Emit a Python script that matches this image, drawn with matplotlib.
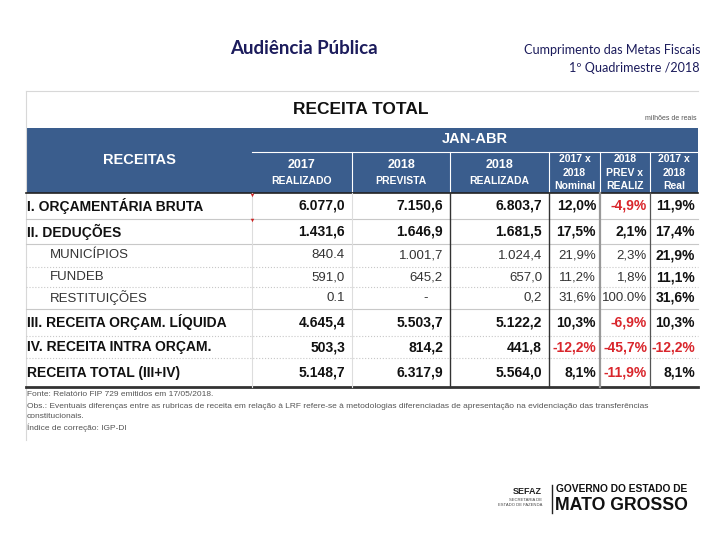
import matplotlib.pyplot as plt

# table data (millions of reais, JAN-ABR)
labels = ["I. ORÇAMENTÁRIA BRUTA", "II. DEDUÇÕES", "MUNICÍPIOS", "FUNDEB",
          "RESTITUIÇÕES", "III. RECEITA ORÇAM. LÍQUIDA",
          "IV. RECEITA INTRA ORÇAM.", "RECEITA TOTAL (III+IV)"]
real_2017 = ["6.077,0", "1.431,6", "840.4", "591,0", "0.1", "4.645,4", "503,3", "5.148,7"]
prev_2018 = ["7.150,6", "1.646,9", "1.001,7", "645,2", "-", "5.503,7", "814,2", "6.317,9"]
real_2018 = ["6.803,7", "1.681,5", "1.024,4", "657,0", "0,2", "5.122,2", "441,8", "5.564,0"]
var_nominal = ["12,0%", "17,5%", "21,9%", "11,2%", "31,6%", "10,3%", "-12,2%", "8,1%"]
var_prev = ["-4,9%", "2,1%", "2,3%", "1,8%", "100.0%", "-6,9%", "-45,7%", "-11,9%"]
var_real = ["11,9%", "17,4%", "21,9%", "11,1%", "31,6%", "10,3%", "-12,2%", "8,1%"]
sub_rows = [2, 3, 4]

col_headers = [["2017", "REALIZADO"], ["2018", "PREVISTA"], ["2018", "REALIZADA"],
               ["2017 x", "2018", "Nominal"], ["2018", "PREV x", "REALIZ"],
               ["2017 x", "2018", "Real"]]

notes = ["Fonte: Relatório FIP 729 emitidos em 17/05/2018.",
         "Obs.: Eventuais diferenças entre as rubricas de receita em relação à LRF refere-se à "
         "metodologias diferenciadas de apresentação na evidenciação das transferências",
         "constitucionais.",
         "Índice de correção: IGP-DI"]

# layout (pixels)
BLUE = '#3a5d8d'
x_edges = [26, 252, 352, 450, 549, 600, 650, 698]
y_edges = [193, 219, 244, 267, 287, 309, 336, 358, 387]
line_style = ['solid', 'solid', 'dotted', 'dotted', 'solid', 'dotted', 'dotted']

plt.rcParams['font.family'] = ['Liberation Sans', 'DejaVu Sans']
fig = plt.figure(figsize=(7.2, 5.4), dpi=100)
ax = fig.add_axes([0, 0, 1, 1])
ax.set_xlim(0, 720)
ax.set_ylim(540, 0)
ax.axis('off')

# slide header
ax.text(230, 49, "Audiência Pública", family=['Lato', 'DejaVu Sans'], fontsize=13.5,
        fontweight='bold', color='#1c1c5c', va='center')
ax.text(700, 50, "Cumprimento das Metas Fiscais", family=['Lato', 'DejaVu Sans'],
        fontsize=9.1, color='#1c1c5c', ha='right', va='center')
ax.text(700, 68, "1º Quadrimestre /2018", family=['Lato', 'DejaVu Sans'],
        fontsize=9.1, color='#1c1c5c', ha='right', va='center')

# frame
ax.plot([26, 26], [91, 440], color='#d8d8d8', lw=0.8)
ax.plot([26, 698], [91, 91], color='#d8d8d8', lw=0.8)

ax.text(361, 110, "RECEITA TOTAL", fontsize=12.5, fontweight='bold', ha='center',
        va='center', color='#111111')
ax.text(697, 119, "milhões de reais", fontsize=5, ha='right', va='center', color='#555555')

# blue header
ax.add_patch(plt.Rectangle((26, 128), 672, 65, color=BLUE, lw=0))
ax.text(139, 160, "RECEITAS", fontsize=10.5, fontweight='bold', color='white',
        ha='center', va='center')
ax.text(475, 139, "JAN-ABR", fontsize=10.5, fontweight='bold', color='white',
        ha='center', va='center')
ax.plot([252, 698], [152, 152], color='white', lw=0.8)
for xe in x_edges[2:-1]:
    ax.plot([xe, xe], [152, 193], color='white', lw=0.8)
for i, hdr in enumerate(col_headers):
    xc = (x_edges[i + 1] + x_edges[i + 2]) / 2
    if len(hdr) == 2:
        ax.text(xc, 165, hdr[0], fontsize=9, fontweight='bold', color='white', ha='center', va='center')
        ax.text(xc, 181, hdr[1], fontsize=7.5, fontweight='bold', color='white', ha='center', va='center')
    else:
        for j, s in enumerate(hdr):
            ax.text(xc, 159 + j * 13.5, s, fontsize=7.5, fontweight='bold', color='white',
                    ha='center', va='center')

# grid lines
ax.plot([26, 698], [193, 193], color='#222222', lw=1.2)
for k, yb in enumerate(y_edges[1:-1]):
    ax.plot([26, 698], [yb, yb], color='#c8c8c8', lw=0.8, linestyle=line_style[k])
ax.plot([26, 698], [387, 387], color='#333333', lw=2)
v_colors = ['#dddddd', '#dddddd', '#333333', '#333333', '#999999', '#555555']
v_widths = [0.8, 0.8, 1.0, 1.0, 1.6, 0.9]
for xe, c, w in zip(x_edges[1:-1], v_colors, v_widths):
    ax.plot([xe, xe], [193, 387], color=c, lw=w)
ax.plot([252, 252], [195, 220], linestyle='none', marker='v', markersize=2.5,
        color='#cc2222', markeredgewidth=0)

# body
columns = [real_2017, prev_2018, real_2018, var_nominal, var_prev, var_real]
pads = [7, 7, 7, 4, 3, 3]
for r, lab in enumerate(labels):
    yc = (y_edges[r] + y_edges[r + 1]) / 2
    sub = r in sub_rows
    if sub:
        ax.text(50, yc, lab, fontsize=9.5, color='#333333', va='center')
    else:
        ax.text(27, yc, lab, fontsize=10, fontweight='bold', color='#111111', va='center')
    for c, col in enumerate(columns):
        val = col[r]
        xr = x_edges[c + 2] - pads[c]
        bold = (not sub) or c == 5
        color = '#d9262c' if val.startswith('-') and len(val) > 1 else ('#111111' if bold else '#333333')
        if val == '-':
            xr -= 15
        ax.text(xr, yc, val, fontsize=10 if bold else 9.5,
                fontweight='bold' if bold else 'normal', color=color, ha='right', va='center')

# notes
for i, s in enumerate(notes):
    ax.text(27, 395 + i * 11, s, fontsize=6, color='#555555', va='center')

# logo
ax.text(542, 492, "SEFAZ", fontsize=6.5, fontweight='bold', ha='right', va='center', color='#222222')
ax.text(542, 500, "SECRETARIA DE", fontsize=3, ha='right', va='center', color='#444444')
ax.text(542, 505, "ESTADO DE FAZENDA", fontsize=3, ha='right', va='center', color='#444444')
ax.plot([552, 552], [485, 513], color='#222222', lw=1)
ax.text(556, 489, "GOVERNO DO ESTADO DE", fontsize=7.4, fontweight='bold', va='center', color='#111111')
ax.text(555, 505, "MATO GROSSO", fontsize=12.7, fontweight='bold', va='center', color='#111111')

fig.savefig('out.png', dpi=100)
